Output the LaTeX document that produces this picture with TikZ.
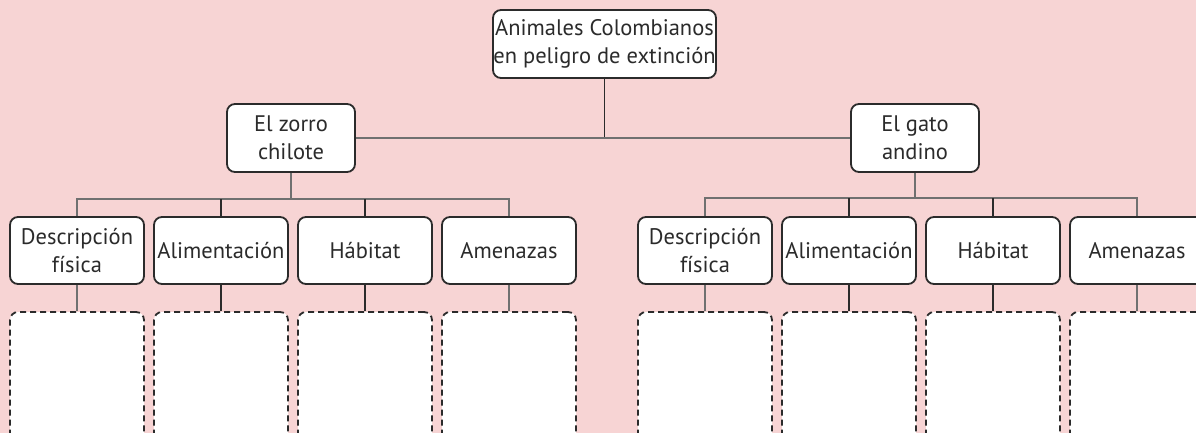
\documentclass[tikz,border=0pt]{standalone}
\usepackage{fontspec}
\setmainfont{PT Sans}
\definecolor{bgpink}{HTML}{F7D4D4}
\definecolor{dk}{HTML}{2B2B2B}
\definecolor{gr}{HTML}{707070}
\begin{document}
\begin{tikzpicture}[x=1pt,y=-1pt,
  box/.style={draw=dk,line width=1.8pt,fill=white,rounded corners=8pt,align=center,
    font=\fontsize{22.5}{28}\selectfont,text=dk,inner sep=0pt},
  emptybox/.style={draw=dk,line width=1.8pt,fill=white,rounded corners=8pt,dash pattern=on 6pt off 4pt},
  gl/.style={draw=gr,line width=1.5pt},
  dl/.style={draw=dk,line width=1.5pt}]
\useasboundingbox (0,0) rectangle (1196,433);
\fill[bgpink] (0,0) rectangle (1196,433);
\clip (0,0) rectangle (1196,433);
% top
\node[box,minimum width=223pt,minimum height=68pt] (top) at (604.5,44) {Animales Colombianos\\en peligro de extinción};
\node[box,minimum width=128pt,minimum height=68pt] (zorro) at (291,138) {El zorro\\chilote};
\node[box,minimum width=128pt,minimum height=68pt] (gato) at (915,138) {El gato\\andino};
% level 3 left
\node[box,minimum width=134pt,minimum height=67pt] (d1) at (77,250.5) {Descripción\\física};
\node[box,minimum width=134pt,minimum height=67pt] (a1) at (221,250.5) {Alimentación};
\node[box,minimum width=134pt,minimum height=67pt] (h1) at (365,250.5) {Hábitat};
\node[box,minimum width=134pt,minimum height=67pt] (m1) at (509,250.5) {Amenazas};
% level 3 right
\node[box,minimum width=134pt,minimum height=67pt] (d2) at (705,250.5) {Descripción\\física};
\node[box,minimum width=134pt,minimum height=67pt] (a2) at (849,250.5) {Alimentación};
\node[box,minimum width=134pt,minimum height=67pt] (h2) at (993,250.5) {Hábitat};
\node[box,minimum width=134pt,minimum height=67pt] (m2) at (1137,250.5) {Amenazas};
% empty boxes
\foreach \n/\x in {e1/77,e2/221,e3/365,e4/509,e5/705,e6/849,e7/993,e8/1137}{
  \node[emptybox,minimum width=134pt,minimum height=160pt,inner sep=0pt] (\n) at (\x,392) {};
}
% connectors
\coordinate (j0) at (604.5,137);
\draw[dl] (top.south) -- (j0);
\draw[gl] (zorro.east) -- (zorro.east -| j0) -- (gato.west);
\coordinate (jl) at (291,199);
\coordinate (jr) at (915,198);
\draw[gl] (zorro.south) -- (jl);
\draw[gl] (gato.south) -- (jr);
\draw[gl] (d1.north) |- (jl) -| (m1.north);
\draw[gl] (d2.north) |- (jr) -| (m2.north);
\draw[dl] (a1.north) -- (a1.north |- jl);
\draw[dl] (h1.north) -- (h1.north |- jl);
\draw[dl] (a2.north) -- (a2.north |- jr);
\draw[dl] (h2.north) -- (h2.north |- jr);
% to empty boxes
\draw[gl] (d1.south) -- (e1.north);
\draw[dl] (a1.south) -- (e2.north);
\draw[dl] (h1.south) -- (e3.north);
\draw[gl] (m1.south) -- (e4.north);
\draw[gl] (d2.south) -- (e5.north);
\draw[dl] (a2.south) -- (e6.north);
\draw[dl] (h2.south) -- (e7.north);
\draw[gl] (m2.south) -- (e8.north);
\end{tikzpicture}
\end{document}
